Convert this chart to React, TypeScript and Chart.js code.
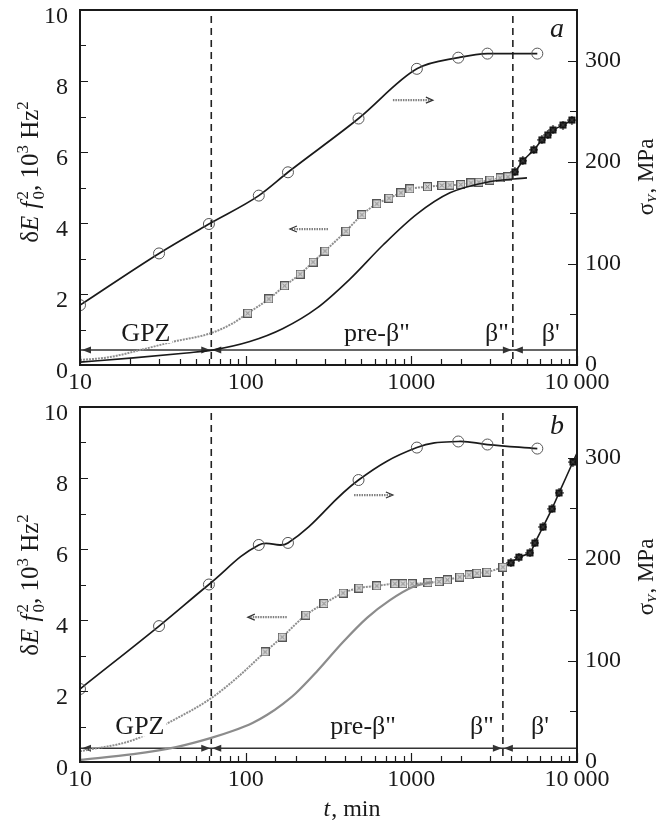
import React, { useEffect, useRef } from 'react';
import { Chart, registerables } from 'chart.js';
Chart.register(...registerables);

const FONT = "'Liberation Serif', 'Times New Roman', serif";
const INK = '#1a1a1a';

// ---------------- Panel a ----------------
const circA_t = [10, 30, 60, 120, 180, 480, 1080, 1920, 2880, 5760];
const circA_s = [59, 110, 139, 167, 190, 243, 292, 303, 307, 307];

const sqA_t = [10, 15, 23, 36, 62, 84, 103, 138, 172, 213, 255, 301, 403, 503, 619, 733, 865, 980, 1250, 1530, 1710, 1990, 2290, 2560, 2980, 3430, 3830];
const sqA_v = [0.14, 0.22, 0.42, 0.65, 0.9, 1.18, 1.46, 1.86, 2.23, 2.56, 2.9, 3.21, 3.77, 4.23, 4.54, 4.7, 4.85, 4.96, 5.02, 5.06, 5.07, 5.08, 5.13, 5.15, 5.21, 5.27, 5.3];
const sqA_firstMarker = 6;

const starA_t = [4220, 4710, 5490, 6140, 6670, 7160, 8230, 9320];
const starA_v = [5.44, 5.75, 6.06, 6.34, 6.48, 6.62, 6.76, 6.9];

const lowA_t = [10, 21, 44, 63, 106, 167, 269, 426, 675, 1080, 1710, 2860, 4990];
const lowA_v = [0.08, 0.2, 0.34, 0.42, 0.66, 1.02, 1.6, 2.42, 3.38, 4.25, 4.85, 5.15, 5.27];

const boundsA = [62, 4100];
const levelA = 0.42;

// ---------------- Panel b ----------------
const circB_t = [10, 30, 60, 120, 180, 480, 1080, 1920, 2880, 5760];
const circB_s = [72, 134, 175, 214, 216, 278, 310, 316, 313, 309];

const sqB_t = [10, 21, 35, 62, 90, 131, 166, 231, 297, 387, 483, 619, 796, 890, 1010, 1260, 1470, 1650, 1960, 2230, 2490, 2860, 3570];
const sqB_v = [0.3, 0.62, 1.13, 1.8, 2.4, 3.1, 3.52, 4.14, 4.46, 4.76, 4.9, 4.96, 5.02, 5.02, 5.02, 5.05, 5.08, 5.13, 5.21, 5.27, 5.32, 5.35, 5.49];
const sqB_firstMarker = 5;

const starB_t = [3990, 4460, 5200, 5570, 6230, 7060, 7790, 9450, 10000];
const starB_v = [5.61, 5.77, 5.89, 6.17, 6.62, 7.13, 7.58, 8.45, 8.7];
const starB_lastPlain = true;

const lowB_t = [10, 21, 38, 62, 84, 110, 135, 168, 200, 269, 387, 540, 743, 1020, 1350];
const lowB_v = [0.06, 0.22, 0.42, 0.68, 0.88, 1.1, 1.33, 1.64, 1.93, 2.55, 3.38, 4.06, 4.56, 4.93, 5.07];

const boundsB = [62, 3570];
const levelB = 0.39;

// ---------------- axes ----------------
const X_MIN = 10, X_MAX = 10000;
const Y_MIN = 0, Y_MAX = 10, Y_STEP = 1;
const S_MIN = 0, S_MAX = 350, S_STEP = 50;
const xLabels: Record<number, string> = { 10: '10', 100: '100', 1000: '1000', 10000: '10\u2009000' };
const regionLabels = ['GPZ', 'pre-\u03b2"', '\u03b2"', "\u03b2'"];

type Run = { t?: string; i?: boolean; sub?: boolean; sup?: boolean; stack?: [string, string] };

function drawRuns(ctx: CanvasRenderingContext2D, runs: Run[], cx: number, cy: number, size: number, rotate: boolean) {
  ctx.save();
  ctx.translate(cx, cy);
  if (rotate) ctx.rotate(-Math.PI / 2);
  const small = Math.round(size * 0.66);
  const f = (it: boolean | undefined, sz: number) => `${it ? 'italic ' : ''}${sz}px ${FONT}`;
  const widths = runs.map((r) => {
    if (r.stack) {
      ctx.font = f(false, small);
      return Math.max(ctx.measureText(r.stack[0]).width, ctx.measureText(r.stack[1]).width) + 1;
    }
    ctx.font = f(r.i, r.sub || r.sup ? small : size);
    return ctx.measureText(r.t || '').width + (r.i ? 1 : 0);
  });
  const total = widths.reduce((a, b) => a + b, 0);
  let x = -total / 2;
  const base = size * 0.33;
  ctx.fillStyle = INK;
  ctx.textBaseline = 'alphabetic';
  ctx.textAlign = 'left';
  runs.forEach((r, k) => {
    if (r.stack) {
      ctx.font = f(false, small);
      ctx.fillText(r.stack[0], x + 1, base + size * 0.22);
      ctx.fillText(r.stack[1], x + 1, base - size * 0.42);
    } else {
      ctx.font = f(r.i, r.sub || r.sup ? small : size);
      const dy = r.sub ? size * 0.22 : r.sup ? -size * 0.42 : 0;
      ctx.fillText(r.t || '', x, base + dy);
    }
    x += widths[k];
  });
  ctx.restore();
}

function head(ctx: CanvasRenderingContext2D, x: number, y: number, dir: number) {
  ctx.beginPath();
  ctx.moveTo(x, y);
  ctx.lineTo(x - dir * 9, y - 3.5);
  ctx.lineTo(x - dir * 9, y + 3.5);
  ctx.closePath();
  ctx.fill();
}

function squareImg() {
  const c = document.createElement('canvas');
  c.width = 9; c.height = 9;
  const g = c.getContext('2d')!;
  g.fillStyle = '#d4d4d4';
  g.fillRect(0.5, 0.5, 8, 8);
  g.strokeStyle = '#555';
  g.lineWidth = 1;
  g.strokeRect(0.5, 0.5, 8, 8);
  g.strokeStyle = '#777';
  g.beginPath();
  g.moveTo(2.5, 2.5); g.lineTo(6.5, 6.5);
  g.moveTo(6.5, 2.5); g.lineTo(2.5, 6.5);
  g.stroke();
  return c;
}

function starImg() {
  const c = document.createElement('canvas');
  c.width = 9; c.height = 9;
  const g = c.getContext('2d')!;
  g.fillStyle = '#111';
  g.fillRect(1, 1, 7, 7);
  g.strokeStyle = '#111';
  g.lineWidth = 1.2;
  g.beginPath();
  g.moveTo(0, 4.5); g.lineTo(9, 4.5);
  g.moveTo(4.5, 0); g.lineTo(4.5, 9);
  g.stroke();
  g.strokeStyle = '#666';
  g.lineWidth = 0.8;
  g.beginPath();
  g.moveTo(2.5, 2.5); g.lineTo(6.5, 6.5);
  g.moveTo(6.5, 2.5); g.lineTo(2.5, 6.5);
  g.stroke();
  return c;
}

type Spec = {
  name: string;
  height: number;
  xHeight: number;
  circT: number[]; circS: number[]; circSmooth: 'monotone' | 'tension';
  sqT: number[]; sqV: number[]; sqFirst: number;
  starT: number[]; starV: number[]; starLastPlain: boolean;
  lowT: number[]; lowV: number[]; lowColor: string; lowWidth: number;
  bounds: number[]; level: number;
  labelY: number;
  labelPos: number[];
  arrowR: [number, number, number];
  arrowL: [number, number, number];
  letter: string;
  leftTitleY: number; rightTitleY: number;
  xTitle: boolean;
};

const specA: Spec = {
  name: 'a', height: 397, xHeight: 32,
  circT: circA_t, circS: circA_s, circSmooth: 'monotone',
  sqT: sqA_t, sqV: sqA_v, sqFirst: sqA_firstMarker,
  starT: starA_t, starV: starA_v, starLastPlain: false,
  lowT: lowA_t, lowV: lowA_v, lowColor: '#1a1a1a', lowWidth: 1.6,
  bounds: boundsA, level: levelA,
  labelY: 0.9, labelPos: [25, 620, 3290, 6950],
  arrowR: [774, 1349, 7.46], arrowL: [314, 185, 3.83],
  letter: 'a', leftTitleY: 172, rightTitleY: 177, xTitle: false,
};

const specB: Spec = {
  name: 'b', height: 428, xHeight: 63,
  circT: circB_t, circS: circB_s, circSmooth: 'tension',
  sqT: sqB_t, sqV: sqB_v, sqFirst: sqB_firstMarker,
  starT: starB_t, starV: starB_v, starLastPlain: starB_lastPlain,
  lowT: lowB_t, lowV: lowB_v, lowColor: '#8c8c8c', lowWidth: 2.2,
  bounds: boundsB, level: levelB,
  labelY: 1.0, labelPos: [23, 511, 2670, 5970],
  arrowR: [451, 774, 7.52], arrowL: [177, 103, 4.08],
  letter: 'b', leftTitleY: 188, rightTitleY: 180, xTitle: true,
};

function makePlugin(spec: Spec) {
  return {
    id: 'ann_' + spec.name,
    beforeDatasetsDraw(chart: any) {
      const { ctx, chartArea: a, scales } = chart;
      const x = scales.x, y = scales.y;
      ctx.save();
      ctx.strokeStyle = '#222';
      ctx.lineWidth = 1.6;
      ctx.setLineDash([7, 5]);
      for (const b of spec.bounds) {
        const px = x.getPixelForValue(b);
        ctx.beginPath();
        ctx.moveTo(px, a.top + 6);
        ctx.lineTo(px, a.bottom);
        ctx.stroke();
      }
      ctx.setLineDash([]);
      const py = y.getPixelForValue(spec.level);
      ctx.strokeStyle = '#333';
      ctx.fillStyle = '#333';
      ctx.lineWidth = 1.5;
      ctx.beginPath();
      ctx.moveTo(a.left, py);
      ctx.lineTo(a.right, py);
      ctx.stroke();
      head(ctx, a.left + 2, py, -1);
      for (const b of spec.bounds) {
        const px = x.getPixelForValue(b);
        head(ctx, px - 1, py, 1);
        head(ctx, px + 1, py, -1);
      }
      ctx.restore();
    },
    afterDatasetsDraw(chart: any) {
      const { ctx, scales } = chart;
      const x = scales.x, y = scales.y;
      ctx.save();
      // region labels
      ctx.font = `26px ${FONT}`;
      ctx.textAlign = 'center';
      ctx.textBaseline = 'middle';
      regionLabels.forEach((lab, k) => {
        const px = x.getPixelForValue(spec.labelPos[k]);
        const py = y.getPixelForValue(spec.labelY);
        const w = ctx.measureText(lab).width;
        ctx.fillStyle = '#fff';
        ctx.fillRect(px - w / 2 - 2, py - 10, w + 4, 20);
        ctx.fillStyle = INK;
        ctx.fillText(lab, px, py + 1);
      });
      // pointer arrows
      for (const [t1, t2, v] of [spec.arrowR, spec.arrowL]) {
        const x1 = x.getPixelForValue(t1), x2 = x.getPixelForValue(t2), py = y.getPixelForValue(v);
        const dir = x2 > x1 ? 1 : -1;
        ctx.strokeStyle = '#808080';
        ctx.lineWidth = 2.2;
        ctx.setLineDash([1.5, 1]);
        ctx.beginPath();
        ctx.moveTo(x1, py);
        ctx.lineTo(x2 - dir * 2, py);
        ctx.stroke();
        ctx.setLineDash([]);
        ctx.strokeStyle = '#333';
        ctx.lineWidth = 1.2;
        ctx.beginPath();
        ctx.moveTo(x2 - dir * 7, py - 3);
        ctx.lineTo(x2, py);
        ctx.lineTo(x2 - dir * 7, py + 3);
        ctx.stroke();
      }
      // letter
      ctx.font = `italic 28px ${FONT}`;
      ctx.fillStyle = INK;
      ctx.textAlign = 'center';
      ctx.textBaseline = 'middle';
      ctx.fillText(spec.letter, x.getPixelForValue(7570), y.getPixelForValue(9.45));
      ctx.restore();
    },
    afterDraw(chart: any) {
      const { ctx, chartArea: a, scales } = chart;
      const x = scales.x, y = scales.y, y1 = scales.y1;
      ctx.save();
      ctx.strokeStyle = INK;
      // inward ticks
      ctx.lineWidth = 1.2;
      ctx.beginPath();
      for (const tk of y.ticks) {
        const py = Math.round(y.getPixelForValue(tk.value)) + 0.5;
        const len = tk.value % 2 === 0 ? 8 : 6;
        ctx.moveTo(a.left, py);
        ctx.lineTo(a.left + len, py);
      }
      for (const tk of y1.ticks) {
        const py = Math.round(y1.getPixelForValue(tk.value)) + 0.5;
        const len = tk.value % 100 === 0 ? 9 : 7;
        ctx.moveTo(a.right, py);
        ctx.lineTo(a.right - len, py);
      }
      for (const tk of x.ticks) {
        const px = Math.round(x.getPixelForValue(tk.value)) + 0.5;
        const l = Math.log10(tk.value);
        const len = Math.abs(l - Math.round(l)) < 1e-9 ? 9 : 6;
        ctx.moveTo(px, a.bottom);
        ctx.lineTo(px, a.bottom - len);
      }
      ctx.stroke();
      // frame
      ctx.lineWidth = 2;
      ctx.strokeRect(a.left, a.top, a.right - a.left, a.bottom - a.top);
      ctx.restore();
      // axis titles
      drawRuns(ctx, [
        { t: '\u03b4' }, { t: 'E', i: true }, { t: ' ' }, { t: 'f', i: true },
        { stack: ['0', '2'] }, { t: ', 10' }, { t: '3', sup: true }, { t: ' Hz' }, { t: '2', sup: true },
      ], 30, spec.leftTitleY, 25, true);
      drawRuns(ctx, [{ t: '\u03c3' }, { t: 'Y', i: true, sub: true }, { t: ', MPa' }], 645, spec.rightTitleY, 23, true);
      if (spec.xTitle) {
        drawRuns(ctx, [{ t: 't', i: true }, { t: ', min' }], 352, 411, 24, false);
      }
    },
  };
}

function buildChart(canvas: HTMLCanvasElement, spec: Spec) {
  const sq = squareImg();
  const st = starImg();
  const xy = (ts: number[], vs: number[]) => ts.map((t, k) => ({ x: t, y: vs[k] }));
  const lastSq = { x: spec.sqT[spec.sqT.length - 1], y: spec.sqV[spec.sqV.length - 1] };
  const starData = [lastSq, ...xy(spec.starT, spec.starV)];
  const starRadius = starData.map((_, k) => (k === 0 || (spec.starLastPlain && k === starData.length - 1) ? 0 : 4));
  const sqRadius = spec.sqT.map((_, k) => (k < spec.sqFirst ? 0 : 4));
  const tickFont = { family: FONT, size: 24 };

  const config: any = {
    type: 'line',
    data: {
      datasets: [
        {
          label: 'lower',
          data: xy(spec.lowT, spec.lowV),
          yAxisID: 'y',
          borderColor: spec.lowColor,
          borderWidth: spec.lowWidth,
          pointRadius: 0,
          cubicInterpolationMode: 'monotone',
          fill: false,
        },
        {
          label: 'squares',
          data: xy(spec.sqT, spec.sqV),
          yAxisID: 'y',
          borderColor: '#8f8f8f',
          borderWidth: 2,
          borderDash: [2, 1],
          pointStyle: sq,
          pointRadius: sqRadius,
          cubicInterpolationMode: 'monotone',
          fill: false,
        },
        {
          label: 'stars',
          data: starData,
          yAxisID: 'y',
          borderColor: '#1a1a1a',
          borderWidth: 1.6,
          pointStyle: st,
          pointRadius: starRadius,
          tension: 0.2,
          fill: false,
        },
        {
          label: 'sigmaY',
          data: xy(spec.circT, spec.circS),
          yAxisID: 'y1',
          borderColor: '#1a1a1a',
          borderWidth: 1.7,
          pointStyle: 'circle',
          pointRadius: 5.5,
          pointBorderColor: '#555',
          pointBorderWidth: 1,
          pointBackgroundColor: 'rgba(0,0,0,0)',
          ...(spec.circSmooth === 'monotone' ? { cubicInterpolationMode: 'monotone' } : { tension: 0.4 }),
          fill: false,
        },
      ],
    },
    options: {
      responsive: false,
      animation: false,
      devicePixelRatio: 1,
      layout: { padding: { top: 10, left: 0, right: 0, bottom: 0 } },
      plugins: { legend: { display: false }, tooltip: { enabled: false } },
      scales: {
        x: {
          type: 'logarithmic',
          min: X_MIN,
          max: X_MAX,
          grid: { display: false, drawTicks: false },
          border: { display: false },
          ticks: {
            autoSkip: false,
            maxRotation: 0,
            minRotation: 0,
            padding: 3,
            color: INK,
            font: tickFont,
            callback: (v: number) => xLabels[Math.round(v)] ?? '',
          },
          afterFit: (s: any) => {
            s.height = spec.xHeight;
            s.paddingLeft = 0; s.paddingRight = 0;
          },
        },
        y: {
          position: 'left',
          min: Y_MIN,
          max: Y_MAX,
          grid: { display: false, drawTicks: false },
          border: { display: false },
          ticks: {
            stepSize: Y_STEP,
            padding: 12,
            labelOffset: 7,
            color: INK,
            font: tickFont,
            callback: (v: number) => (v % 2 === 0 ? String(v) : ''),
          },
          afterFit: (s: any) => {
            s.width = 80;
            s.paddingTop = 0; s.paddingBottom = 0;
          },
        },
        y1: {
          position: 'right',
          min: S_MIN,
          max: S_MAX,
          grid: { display: false, drawTicks: false },
          border: { display: false },
          ticks: {
            stepSize: S_STEP,
            padding: 8,
            color: INK,
            font: tickFont,
            callback: (v: number) => (v % 100 === 0 ? String(v) : ''),
          },
          afterFit: (s: any) => {
            s.width = 79;
            s.paddingTop = 0; s.paddingBottom = 0;
          },
        },
      },
    },
    plugins: [makePlugin(spec)],
  };
  return new Chart(canvas, config);
}

export default function App() {
  const refA = useRef<HTMLCanvasElement>(null);
  const refB = useRef<HTMLCanvasElement>(null);
  useEffect(() => {
    const ca = buildChart(refA.current!, specA);
    const cb = buildChart(refB.current!, specB);
    return () => {
      ca.destroy();
      cb.destroy();
    };
  }, []);
  return (
    <div style={{ position: 'fixed', left: 0, top: 0, width: 656, height: 825, background: '#fff', overflow: 'hidden' }}>
      <canvas ref={refA} width={656} height={specA.height} style={{ position: 'absolute', left: 0, top: 0, width: 656, height: specA.height }} />
      <canvas ref={refB} width={656} height={specB.height} style={{ position: 'absolute', left: 0, top: 397, width: 656, height: specB.height }} />
    </div>
  );
}
